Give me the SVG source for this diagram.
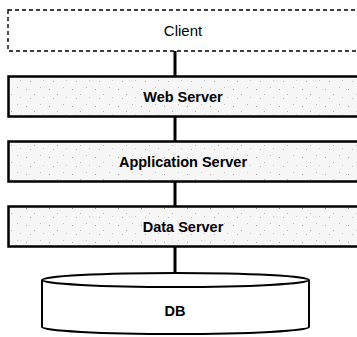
<svg xmlns="http://www.w3.org/2000/svg" width="357" height="337" viewBox="0 0 357 337">
  <defs>
    <pattern id="speckle" width="23" height="17" patternUnits="userSpaceOnUse">
      <rect width="23" height="17" fill="#f6f6f6"/>
      <rect x="3" y="4" width="1" height="1" fill="#aaa"/>
      <rect x="11" y="9" width="1" height="1" fill="#bbb"/>
      <rect x="17" y="2" width="1" height="1" fill="#c4c4c4"/>
      <rect x="7" y="13" width="1" height="1" fill="#bbb"/>
      <rect x="20" y="12" width="1" height="1" fill="#ccc"/>
    </pattern>
  </defs>
  <style>
    .box { fill: url(#speckle); stroke: #000; stroke-width: 2.5; }
    .client { fill: #fff; stroke: #000; stroke-width: 1.4; stroke-dasharray: 4 3; }
    .lbl { font-family: "Liberation Sans", Arial, sans-serif; font-size: 14.5px; font-weight: bold; text-anchor: middle; fill: #000; }
    .lblr { font-family: "Liberation Sans", Arial, sans-serif; font-size: 15px; text-anchor: middle; fill: #000; }
    .conn { stroke: #000; stroke-width: 3; fill: none; }
    .cyl { fill: #fff; stroke: #000; stroke-width: 2; }
  </style>
  <rect width="357" height="337" fill="#fff"/>
  <g id="connectors">
    <line class="conn" x1="175" y1="51" x2="175" y2="76"/>
    <line class="conn" x1="175" y1="117" x2="175" y2="141"/>
    <line class="conn" x1="175" y1="182" x2="175" y2="206"/>
    <line class="conn" x1="175" y1="247" x2="175" y2="273"/>
  </g>
  <g id="client">
    <rect class="client" x="8" y="10" width="360" height="41"/>
    <text class="lblr" x="183" y="36">Client</text>
  </g>
  <g id="web-server">
    <rect class="box" x="8.5" y="76.5" width="360" height="40"/>
    <text class="lbl" x="183" y="101.5">Web Server</text>
  </g>
  <g id="application-server">
    <rect class="box" x="8.5" y="141.5" width="360" height="40"/>
    <text class="lbl" x="183" y="166.5">Application Server</text>
  </g>
  <g id="data-server">
    <rect class="box" x="8.5" y="206.5" width="360" height="40"/>
    <text class="lbl" x="183" y="231.5">Data Server</text>
  </g>
  <g id="db">
    <path class="cyl" d="M42 280 L42 327 A133.5 7 0 0 0 309 327 L309 280"/>
    <ellipse class="cyl" cx="175.5" cy="280" rx="133.5" ry="7"/>
    <text class="lbl" x="175" y="316">DB</text>
  </g>
</svg>
